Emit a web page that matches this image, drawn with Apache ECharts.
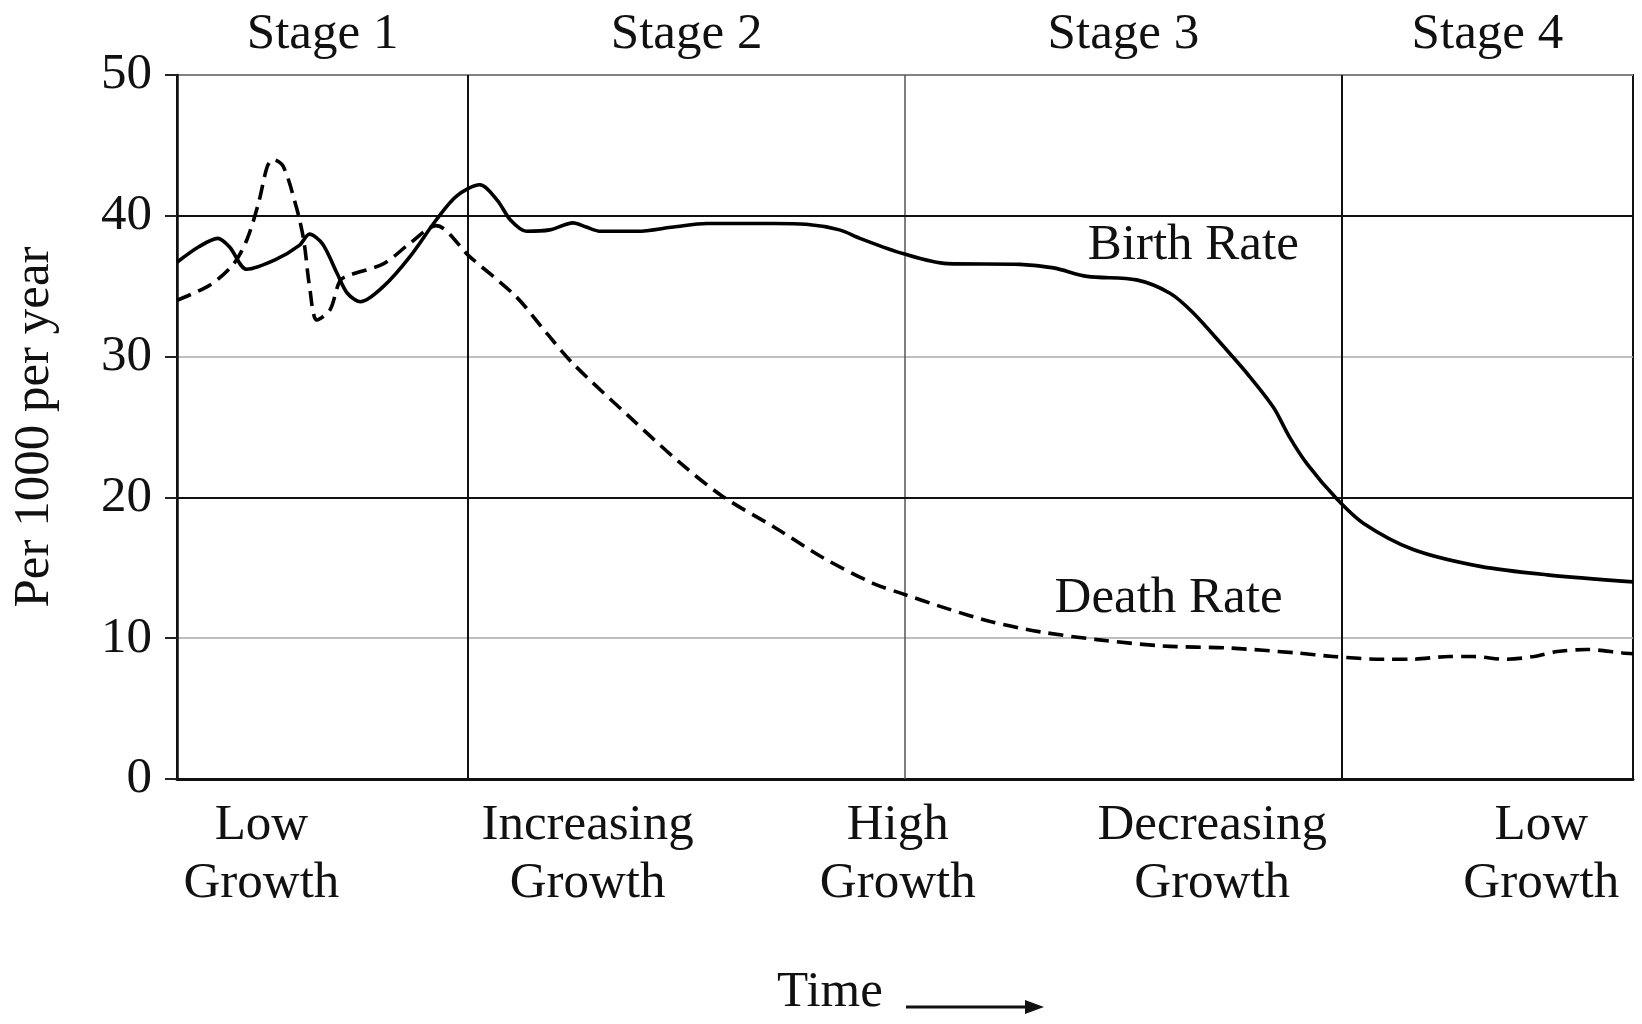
<!DOCTYPE html>
<html>
<head>
<meta charset="utf-8">
<script src="https://cdn.jsdelivr.net/npm/echarts@6/dist/echarts.min.js"></script>
<style>
html,body{margin:0;padding:0;background:#fff;}
#chart{width:1642px;height:1024px;}
</style>
</head>
<body>
<div id="chart"></div>
<script>
// ---- data ----
const timeBirth = [0, 1.5, 2.8, 3.6, 4.8, 6.8, 8.4, 9.1, 10.0, 11.0, 11.7, 12.6, 14.2, 16.0, 17.8, 19.2, 20.8, 22.0, 22.9, 24.0, 25.6, 27.2, 28.1, 29.1, 31.6, 34.1, 36.4, 41.0, 43.2, 45.5, 46.9, 49.9, 52.9, 57.9, 60.2, 62.5, 65.9, 68.2, 69.8, 71.9, 73.5, 75.3, 76.4, 77.6, 79.65, 81.5, 84.9, 89.5, 94.1, 100];
const birthRate = [36.7, 37.8, 38.4, 37.8, 36.2, 36.9, 37.9, 38.7, 38.0, 35.9, 34.5, 33.9, 35.0, 37.1, 39.7, 41.4, 42.2, 41.1, 39.7, 38.9, 39.0, 39.5, 39.2, 38.9, 38.9, 39.2, 39.45, 39.45, 39.4, 39.0, 38.4, 37.3, 36.6, 36.55, 36.3, 35.7, 35.45, 34.5, 33.1, 30.7, 28.8, 26.4, 24.3, 22.4, 19.9, 18.15, 16.3, 15.1, 14.5, 14.0];

const timeDeath = [0, 2.3, 3.9, 4.8, 5.6, 6.2, 6.6, 7.3, 8.2, 8.7, 9.1, 9.6, 10.5, 11.2, 11.9, 14.2, 16.0, 17.8, 20.1, 23.3, 25.4, 27.2, 31.1, 34.5, 37.5, 41.0, 44.4, 47.8, 49.7, 52.9, 55.8, 59.3, 63.2, 67.7, 72.3, 76.9, 79.4, 82.9, 84.7, 87.4, 89.0, 91.3, 93.2, 94.8, 96.8, 99.3, 100];
const deathRate = [34.0, 35.1, 36.6, 38.3, 40.9, 43.5, 44.0, 43.5, 40.6, 38.3, 35.0, 32.6, 33.3, 35.4, 35.8, 36.6, 38.05, 39.3, 37.1, 34.25, 31.65, 29.5, 25.7, 22.5, 20.05, 17.9, 15.7, 13.9, 13.2, 12.1, 11.2, 10.45, 9.9, 9.45, 9.3, 8.95, 8.7, 8.5, 8.5, 8.7, 8.7, 8.5, 8.7, 9.05, 9.2, 8.95, 8.9];

const stageNames = ['Stage 1', 'Stage 2', 'Stage 3', 'Stage 4'];
const stageBounds = [0, 20, 50, 80, 100];
const growthNames = ['Low\nGrowth', 'Increasing\nGrowth', 'High\nGrowth', 'Decreasing\nGrowth', 'Low\nGrowth'];
const growthPos = [5.8, 28.2, 49.5, 71.1, 93.7];
const yTicks = [0, 10, 20, 30, 40, 50];
const seriesNames = ['Birth Rate', 'Death Rate'];
const seriesLabelPos = [[69.8, 37.85], [68.1, 12.8]];

// ---- build ----
const FONT = '"Liberation Serif", "DejaVu Serif", serif';
const TXT = '#111';
const zip = (a, b) => a.map((v, i) => [v, b[i]]);

const stageAreas = stageNames.map((n, i) => [
  { name: n, xAxis: stageBounds[i] },
  { xAxis: stageBounds[i + 1] }
]);

const growthPoints = growthNames.map((n, i) => ({
  name: n, coord: [growthPos[i], 0], value: n
}));

const black = { color: '#111', width: 2, type: 'solid' };
const gridLines = [
  { xAxis: stageBounds[1], lineStyle: black },
  { xAxis: stageBounds[2], lineStyle: { color: '#555', width: 1.5, type: 'solid' } },
  { xAxis: stageBounds[3], lineStyle: black },
  { yAxis: 40, lineStyle: black },
  { yAxis: 20, lineStyle: black }
];

const chart = echarts.init(document.getElementById('chart'), null, { renderer: 'canvas' });
chart.setOption({
  backgroundColor: '#fff',
  animation: false,
  grid: {
    left: 177, right: 9, top: 75, bottom: 245,
    show: true, borderColor: '#111', borderWidth: 2, backgroundColor: 'transparent'
  },
  xAxis: {
    type: 'value', min: 0, max: 100,
    name: 'Time', nameLocation: 'middle', nameGap: 188,
    nameTextStyle: { fontFamily: FONT, fontSize: 51, color: TXT, lineHeight: 51, padding: [0, 150, 0, 0] },
    axisLine: { show: true, lineStyle: { color: '#111', width: 3 } },
    axisTick: { show: false },
    axisLabel: { show: false },
    splitLine: { show: false }
  },
  yAxis: {
    type: 'value', min: yTicks[0], max: yTicks[yTicks.length - 1], interval: 10,
    name: 'Per 1000 per year', nameLocation: 'middle', nameGap: 117,
    nameTextStyle: { fontFamily: FONT, fontSize: 51, color: TXT, lineHeight: 51 },
    axisLine: { show: true, lineStyle: { color: '#111', width: 2.5 } },
    axisTick: { show: true, length: 12, lineStyle: { color: '#222', width: 2 } },
    axisLabel: { fontFamily: FONT, fontSize: 51, color: TXT, margin: 25 },
    splitLine: { show: true, lineStyle: { color: '#a8a8a8', width: 1.5 } }
  },
  series: [
    {
      name: seriesNames[0], type: 'line', smooth: 0.3, showSymbol: false, symbol: 'none',
      data: zip(timeBirth, birthRate),
      lineStyle: { color: '#000', width: 3.6 },
      z: 5,
      markLine: {
        silent: true, symbol: ['none', 'none'], label: { show: false },
        data: gridLines, z: 1
      },
      markArea: {
        silent: true,
        itemStyle: { color: 'rgba(0,0,0,0)' },
        label: { show: true, position: 'top', distance: 15, fontFamily: FONT, fontSize: 51, lineHeight: 51, color: TXT },
        data: stageAreas
      },
      markPoint: {
        silent: true, symbol: 'circle', symbolSize: 1,
        itemStyle: { color: 'rgba(0,0,0,0)' },
        label: {
          show: true, position: 'bottom', distance: 17, formatter: '{b}',
          fontFamily: FONT, fontSize: 51, lineHeight: 58, color: TXT, align: 'center'
        },
        data: growthPoints.concat([{
          name: seriesNames[0], coord: seriesLabelPos[0],
          label: { position: 'inside', distance: 0, lineHeight: 51 }
        }])
      }
    },
    {
      name: seriesNames[1], type: 'line', smooth: 0.3, showSymbol: false, symbol: 'none',
      data: zip(timeDeath, deathRate),
      lineStyle: { color: '#000', width: 3.6, type: [15, 8] },
      z: 5,
      markPoint: {
        silent: true, symbol: 'circle', symbolSize: 1,
        itemStyle: { color: 'rgba(0,0,0,0)' },
        label: { show: true, position: 'inside', formatter: '{b}', fontFamily: FONT, fontSize: 51, lineHeight: 51, color: TXT },
        data: [{ name: seriesNames[1], coord: seriesLabelPos[1] }]
      }
    }
  ],
  graphic: [
    { type: 'line', shape: { x1: 906, y1: 1007, x2: 1030, y2: 1007 }, style: { stroke: '#111', lineWidth: 3 }, silent: true },
    { type: 'polygon', shape: { points: [[1044, 1007], [1025, 1000], [1025, 1014]] }, style: { fill: '#111' }, silent: true }
  ]
});
</script>
</body>
</html>
